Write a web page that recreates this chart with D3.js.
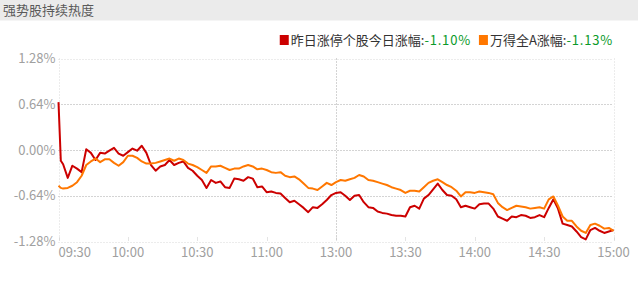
<!DOCTYPE html>
<html>
<head>
<meta charset="utf-8">
<script src="https://cdnjs.cloudflare.com/ajax/libs/d3/7.8.5/d3.min.js"></script>
<style>
  body { margin: 0; background: #fff; }
  svg text { font-family: "Noto Sans CJK SC", "Open Sans", sans-serif; }
</style>
</head>
<body>
<div id="chart"></div>
<script>
// minutes since 09:30 (trading time, lunch break removed)
var minutes = [0, 1, 2, 4, 6, 8, 10, 12, 14, 16, 18, 20, 22, 24, 26, 28, 30, 32, 34, 36, 38,
    40, 42, 44, 46, 48, 50, 52, 54, 56, 58, 60, 62, 64, 66, 68, 70, 72, 74, 76, 78,
    80, 82, 84, 86, 88, 90, 92, 94, 96, 98, 100, 102, 104, 106, 108, 110, 112, 114, 116, 118,
    120, 122, 124, 126, 128, 130, 132, 134, 136, 138, 140, 142, 144, 146, 148, 150, 152, 154, 156, 158,
    160, 162, 164, 166, 168, 170, 172, 174, 176, 178, 180, 182, 184, 186, 188, 190, 192, 194, 196, 198,
    200, 202, 204, 206, 208, 210, 212, 214, 216, 218, 220, 222, 224, 226, 228, 230, 232, 234, 236, 238, 240];

// 昨日涨停个股今日涨幅 (%)
var limitUpPct = [0.67, -0.15, -0.20, -0.39, -0.22, -0.26, -0.31, 0.01, -0.04, -0.14, -0.04, -0.05, -0.01, 0.03, -0.05, -0.08, -0.03, 0.02, -0.01, 0.06, -0.04,
    -0.21, -0.29, -0.23, -0.21, -0.14, -0.21, -0.18, -0.16, -0.25, -0.29, -0.36, -0.42, -0.53, -0.42, -0.46, -0.44, -0.52, -0.53, -0.40, -0.41,
    -0.43, -0.38, -0.40, -0.52, -0.51, -0.59, -0.58, -0.60, -0.61, -0.67, -0.73, -0.71, -0.76, -0.81, -0.87, -0.80, -0.81, -0.76, -0.70, -0.63,
    -0.60, -0.59, -0.64, -0.70, -0.64, -0.63, -0.73, -0.80, -0.81, -0.86, -0.88, -0.89, -0.91, -0.92, -0.92, -0.93, -0.80, -0.78, -0.82, -0.68,
    -0.63, -0.55, -0.47, -0.56, -0.63, -0.64, -0.69, -0.80, -0.78, -0.80, -0.82, -0.76, -0.75, -0.75, -0.82, -0.93, -0.96, -0.99, -0.93, -0.94,
    -0.91, -0.92, -0.95, -0.94, -0.91, -0.94, -0.81, -0.69, -0.82, -1.03, -1.05, -1.07, -1.14, -1.22, -1.25, -1.12, -1.09, -1.13, -1.16, -1.14, -1.12];

// 万得全A涨幅 (%)
var windAPct = [-0.50, -0.53, -0.54, -0.53, -0.50, -0.45, -0.36, -0.21, -0.16, -0.12, -0.17, -0.13, -0.13, -0.18, -0.22, -0.17, -0.08, -0.08, -0.11, -0.16, -0.19,
    -0.19, -0.18, -0.16, -0.14, -0.12, -0.15, -0.12, -0.14, -0.19, -0.21, -0.24, -0.28, -0.32, -0.23, -0.23, -0.22, -0.25, -0.28, -0.26, -0.26,
    -0.23, -0.21, -0.23, -0.27, -0.26, -0.28, -0.31, -0.32, -0.31, -0.36, -0.38, -0.37, -0.41, -0.47, -0.53, -0.54, -0.56, -0.51, -0.46, -0.49,
    -0.45, -0.42, -0.43, -0.41, -0.39, -0.35, -0.37, -0.42, -0.43, -0.45, -0.47, -0.49, -0.52, -0.54, -0.56, -0.60, -0.57, -0.57, -0.58, -0.52,
    -0.46, -0.43, -0.41, -0.45, -0.49, -0.52, -0.57, -0.65, -0.59, -0.59, -0.60, -0.58, -0.59, -0.60, -0.62, -0.74, -0.80, -0.84, -0.81, -0.78,
    -0.79, -0.80, -0.82, -0.81, -0.80, -0.82, -0.69, -0.65, -0.78, -0.93, -0.99, -0.99, -1.07, -1.13, -1.16, -1.05, -1.03, -1.06, -1.10, -1.09, -1.13];

var yTicks = [-1.28, -0.64, 0, 0.64, 1.28];
var xTickMinutes = [0, 30, 60, 90, 120, 150, 180, 210, 240];
var xTickLabels = ["09:30", "10:00", "10:30", "11:00", "13:00", "13:30", "14:00", "14:30", "15:00"];
var seriesNames = ["昨日涨停个股今日涨幅:", "万得全A涨幅:"];
var seriesLast = ["-1.10%", "-1.13%"];
var chartTitle = "强势股持续热度";

var colors = ["#cc0000", "#ff7700"];

const width = 638, height = 284;
const margin = {top: 58.5, right: 24.5, bottom: 42.5, left: 58.5};

var svg = d3.select("#chart").append("svg")
    .attr("width", width)
    .attr("height", height);

// title bar
svg.append("rect")
    .attr("x", 0).attr("y", 0)
    .attr("width", width).attr("height", 20.5)
    .attr("fill", "#ebebeb");

svg.append("text")
    .attr("x", 3).attr("y", 15)
    .attr("font-size", 13)
    .attr("fill", "#5a5a5a")
    .text(chartTitle);

var xScale = d3.scaleLinear()
    .domain([0, 240])
    .range([margin.left, width - margin.right]);

var yScale = d3.scaleLinear()
    .domain([-1.28, 1.28])
    .range([height - margin.bottom, margin.top]);

// horizontal grid
svg.append("g").selectAll("line")
    .data(yTicks)
    .enter()
    .append("line")
    .attr("x1", margin.left)
    .attr("x2", width - margin.right)
    .attr("y1", d => Math.round(yScale(d)) + 0.5)
    .attr("y2", d => Math.round(yScale(d)) + 0.5)
    .attr("stroke", d => Math.abs(d) == 1.28 ? "#d8d8d8" : "#a8a8a8")
    .attr("stroke-dasharray", "1,2");

// left / right borders
svg.append("g").selectAll("line")
    .data([0, 240])
    .enter()
    .append("line")
    .attr("x1", d => Math.round(xScale(d)) + 0.5)
    .attr("x2", d => Math.round(xScale(d)) + 0.5)
    .attr("y1", yScale(1.28))
    .attr("y2", yScale(-1.28))
    .attr("stroke", "#d8d8d8")
    .attr("stroke-dasharray", "1,2");

// noon divider
svg.append("line")
    .attr("x1", Math.round(xScale(120)) + 0.5)
    .attr("x2", Math.round(xScale(120)) + 0.5)
    .attr("y1", yScale(1.28))
    .attr("y2", yScale(-1.28))
    .attr("stroke", "#a8a8a8")
    .attr("stroke-dasharray", "1,2");

// y labels
svg.append("g").selectAll("text")
    .data(yTicks)
    .enter()
    .append("text")
    .attr("x", margin.left - 3)
    .attr("y", d => yScale(d))
    .attr("dy", "0.35em")
    .attr("text-anchor", "end")
    .attr("font-size", 13)
    .attr("fill", "#a0a0a0")
    .text(d => d.toFixed(2) + "%");

// x ticks + labels
var xAxisG = svg.append("g");
xAxisG.selectAll("line")
    .data(xTickMinutes)
    .enter()
    .append("line")
    .attr("x1", d => Math.round(xScale(d)) + 0.5)
    .attr("x2", d => Math.round(xScale(d)) + 0.5)
    .attr("y1", yScale(-1.28) - 4)
    .attr("y2", yScale(-1.28))
    .attr("stroke", "#c8c8c8")
    .attr("stroke-dasharray", "1,1");

xAxisG.selectAll("text")
    .data(xTickMinutes)
    .enter()
    .append("text")
    .attr("x", d => xScale(d))
    .attr("y", 257)
    .attr("text-anchor", (d, i) => i == 0 ? "start" : "middle")
    .attr("font-size", 13)
    .attr("fill", "#a0a0a0")
    .text((d, i) => xTickLabels[i]);

// lines
var seriesData = [limitUpPct, windAPct];
var line = d3.line()
    .x((d, i) => xScale(minutes[i]))
    .y(d => yScale(d));

svg.append("g").selectAll("path")
    .data(seriesData)
    .enter()
    .append("path")
    .attr("d", d => line(d))
    .attr("fill", "none")
    .attr("stroke", (d, i) => colors[i])
    .attr("stroke-width", 2)
    .attr("stroke-linejoin", "round");

// legend, right aligned
var legend = svg.append("g");
var lx = 0;
seriesNames.forEach(function(name, i) {
    legend.append("rect")
        .attr("x", lx).attr("y", 35)
        .attr("width", 9).attr("height", 10)
        .attr("fill", colors[i]);
    var t = legend.append("text")
        .attr("x", lx + 11).attr("y", 45)
        .attr("font-size", 13);
    t.append("tspan").attr("fill", "#333").text(name);
    t.append("tspan").attr("fill", "#0a9a2a").attr("letter-spacing", "0.8px").text(seriesLast[i]);
    lx += 11 + t.node().getComputedTextLength() + 8;
});
lx -= 8;
legend.attr("transform", "translate(" + (613 - lx) + ",0)");
</script>
</body>
</html>
